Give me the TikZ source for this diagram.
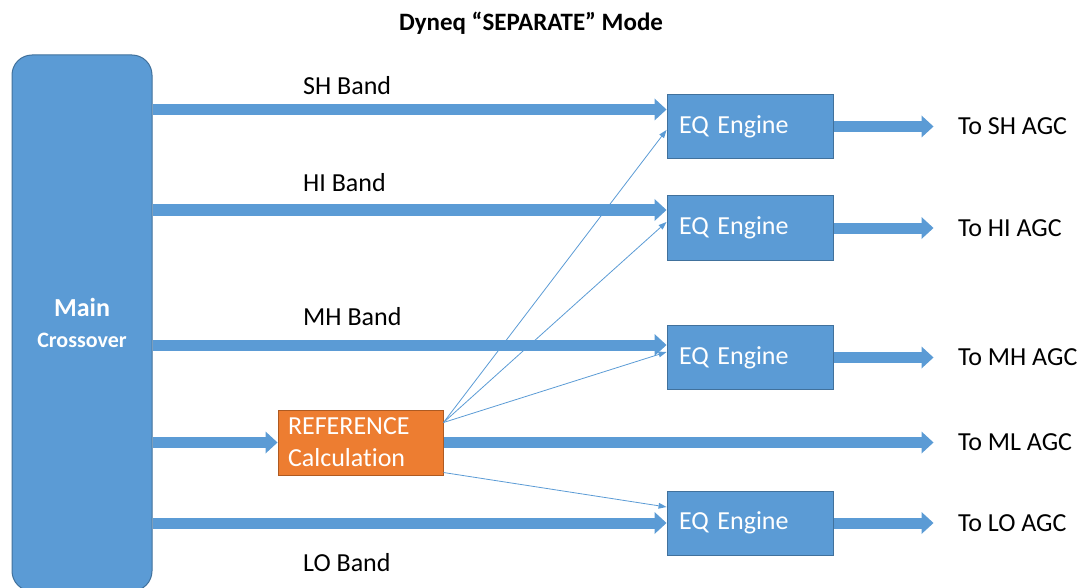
\documentclass[tikz,border=0pt]{standalone}
\usepackage{fontspec}
\setmainfont{Carlito}[RawFeature={-liga}]
\usetikzlibrary{arrows.meta,positioning}
\definecolor{boxblue}{RGB}{91,155,213}
\definecolor{edgeblue}{RGB}{65,113,156}
\definecolor{reforange}{RGB}{237,125,49}
\definecolor{edgeorange}{RGB}{174,90,33}
\tikzset{
	band/.style={line width=11pt,draw=boxblue,-{Triangle[line width=0pt,width=22pt,length=12pt]}},
	feed/.style={line width=0.8pt,draw=boxblue,-{Triangle[line width=0pt,width=6pt,length=8pt]}},
	eqbox/.style={draw=edgeblue,line width=1pt,fill=boxblue,text=white,minimum width=166pt,minimum height=64pt,
		text width=142pt,inner xsep=12pt,align=left,font=\fontsize{26}{32}\selectfont},
	refbox/.style={draw=edgeorange,line width=1pt,fill=reforange,text=white,minimum width=165pt,minimum height=65pt,
		text width=145pt,inner xsep=10pt,inner ysep=0pt,align=left,font=\fontsize{26}{32}\selectfont},
	lbl/.style={inner sep=0pt,font=\fontsize{26}{32}\selectfont}
}
\begin{document}
\begin{tikzpicture}[x=1pt,y=-1pt]
		\useasboundingbox (0,0) rectangle (1081,588);
		\clip (0,0) rectangle (1081,588);
		\node[font=\bfseries\fontsize{25}{30}\selectfont] (title) at (531,23) {Dyneq “SEPARATE” Mode};
		% crossover and blocks
		\node[draw=edgeblue,line width=1pt,fill=boxblue,rounded corners=20pt,minimum width=140pt,minimum height=536pt,
			text=white,align=center,font=\bfseries\fontsize{22}{31}\selectfont] (xover) at (82,323) {{\fontsize{26}{31}\selectfont Main}\\Crossover};
		\node[eqbox] (eqsh) at (750,126.5) {EQ Engine};
		\node[eqbox] (eqhi) at (750,228) {EQ Engine};
		\node[eqbox] (eqmh) at (750,357.5) {EQ Engine};
		\node[eqbox] (eqlo) at (750,523) {EQ Engine};
		\node[refbox] (ref) at (360.5,442.5) {REFERENCE\\Calculation};
		% band inputs
		\path ([yshift=17pt]eqsh.west) coordinate (shin);
		\path ([yshift=18pt]eqhi.west) coordinate (hiin);
		\path ([yshift=12.5pt]eqmh.west) coordinate (mhin);
		\draw[band] (xover.east |- shin) -- (shin);
		\draw[band] (xover.east |- hiin) -- (hiin);
		\draw[band] (xover.east |- mhin) -- (mhin);
		\draw[band] (xover.east |- ref.west) -- (ref.west);
		\draw[band] (xover.east |- eqlo.west) -- (eqlo.west);
		\node[lbl,anchor=west] at (303,86) {SH Band};
		\node[lbl,anchor=west] at (303,183) {HI Band};
		\node[lbl,anchor=west] at (303,317) {MH Band};
		\node[lbl,anchor=west] at (303,563) {LO Band};
		% outputs
		\draw[band] (eqsh.east) -- ++(100,0) node[lbl,anchor=west,xshift=19pt] {To SH AGC};
		\draw[band] (eqhi.east) -- ++(100,0) node[lbl,anchor=west,xshift=19pt] {To HI AGC};
		\draw[band] (eqmh.east) -- ++(100,0) node[lbl,anchor=west,xshift=19pt] {To MH AGC};
		\draw[band] (ref.east) -- ++(490,0) node[lbl,anchor=west,xshift=19pt] {To ML AGC};
		\draw[band] (eqlo.east) -- ++(100,0) node[lbl,anchor=west,xshift=19pt] {To LO AGC};
		% reference feeds
		\draw[feed] ([yshift=-13pt]ref.north east) -- ([yshift=-3.5pt]eqsh.west);
		\draw[feed] ([yshift=-13pt]ref.north east) -- ([yshift=6pt]eqhi.west);
		\draw[feed] ([yshift=-13pt]ref.north east) -- ([yshift=5.5pt]eqmh.west);
		\draw[feed] ([yshift=3pt]ref.south east) -- ([yshift=16pt]eqlo.west);
	\end{tikzpicture}
\end{document}
